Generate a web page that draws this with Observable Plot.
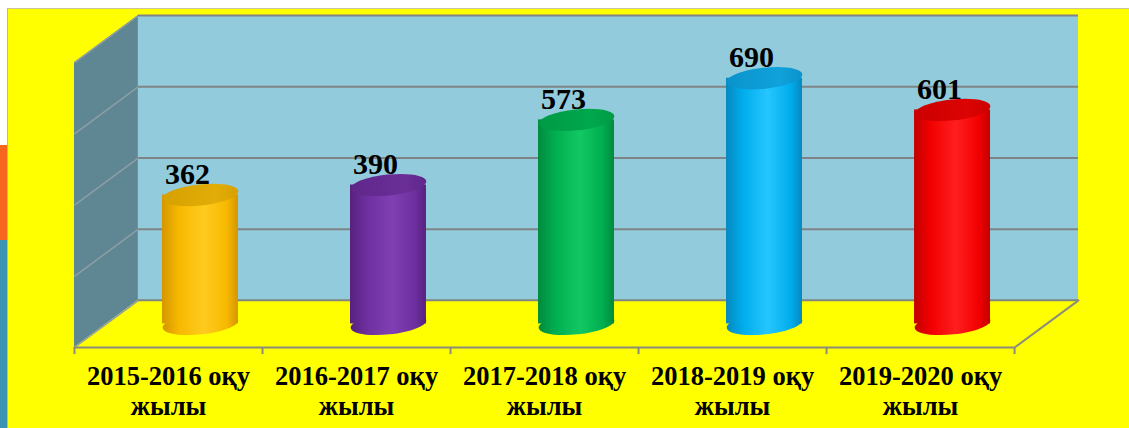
<!DOCTYPE html>
<html><head><meta charset="utf-8">
<script src="https://cdn.jsdelivr.net/npm/d3@7"></script>
<script src="https://cdn.jsdelivr.net/npm/@observablehq/plot@0.6"></script>
<style>
html,body{margin:0;padding:0;background:#fff;width:1129px;height:428px;overflow:hidden;position:relative;}
#panel{position:absolute;left:7px;top:8px;width:1122px;height:420px;background:#FFFF00;border-top:1px solid #c8c49a;border-left:1px solid #b9b9a0;box-sizing:border-box;}
#orange{position:absolute;left:0;top:145px;width:7px;height:96px;background:#F7661F;}
#teal{position:absolute;left:0;top:240px;width:7px;height:188px;background:#3A93B0;}
#chart{position:absolute;left:0;top:0;}
</style></head><body>
<div id="panel"></div><div id="orange"></div><div id="teal"></div><div id="chart"></div>
<script>
// ---- data ----
const categories = ["2015-2016 оқу\nжылы", "2016-2017 оқу\nжылы", "2017-2018 оқу\nжылы", "2018-2019 оқу\nжылы", "2019-2020 оқу\nжылы"];
const values = [362, 390, 573, 690, 601];
const yTicks = [0, 200, 400, 600, 800];
const barColors = [
  {dark: "#D49600", base: "#F7B900", light: "#FFCB1F", top: "#D6A000", topL: "#E3AD08"},
  {dark: "#57217F", base: "#6E2F9F", light: "#8040B3", top: "#5F278A", topL: "#6B2E98"},
  {dark: "#008A3E", base: "#00AE4F", light: "#12C863", top: "#009A45", topL: "#00A84C"},
  {dark: "#0688C0", base: "#00ADEC", light: "#26C6FF", top: "#0A93CC", topL: "#10A2DB"},
  {dark: "#C20000", base: "#F20000", light: "#FF1E1E", top: "#CC0000", topL: "#DC0303"}
];

// ---- geometry (depth offsets in scale units) ----
const n = categories.length;
const yMax = yTicks[yTicks.length - 1];
const d = 0.17;   // half depth, x units
const D = 66.2;   // half depth, y units
const halfW = 0.202;
const RX = 38, RY = 10.5, TILT = -6 * Math.PI / 180;
const rows = categories.map((c, i) => ({i, c, v: values[i]}));

const rot = (x, y) => [x * Math.cos(TILT) - y * Math.sin(TILT), x * Math.sin(TILT) + y * Math.cos(TILT)];
const ellipse = {draw(ctx) {
  const k = 0.5523;
  const P = [[RX, 0],
    [RX, k*RY], [k*RX, RY], [0, RY],
    [-k*RX, RY], [-RX, k*RY], [-RX, 0],
    [-RX, -k*RY], [-k*RX, -RY], [0, -RY],
    [k*RX, -RY], [RX, -k*RY], [RX, 0]].map(([x, y]) => rot(x, y));
  ctx.moveTo(...P[0]);
  for (let j = 1; j < P.length; j += 3) ctx.bezierCurveTo(...P[j], ...P[j + 1], ...P[j + 2]);
  ctx.closePath();
}};

const serif = "'Liberation Serif', 'Times New Roman', serif";
const marks = [
  Plot.areaY([{x: -0.5 - d, y1: -D, y2: yMax - D}, {x: -0.5 + d, y1: D, y2: yMax + D}],
    {x: "x", y1: "y1", y2: "y2", fill: "#5E8793"}),
  Plot.rect([0], {x1: -0.5 + d, x2: n - 0.5 + d, y1: D, y2: yMax + D, fill: "#92CBDB"}),
  Plot.link(yTicks, {x1: -0.5 - d, y1: v => v - D, x2: -0.5 + d, y2: v => v + D, stroke: "#8e9ea4", strokeWidth: 1.5}),
  Plot.ruleY(yTicks, {y: v => v + D, x1: -0.5 + d, x2: n - 0.5 + d, stroke: "#7f8486", strokeWidth: 2}),
  Plot.line([[-0.5 - d, -D], [n - 0.5 - d, -D], [n - 0.5 + d, D]], {stroke: "#8c8c7a", strokeWidth: 2}),
  Plot.ruleX(d3.range(n + 1), {x: i => i - 0.5 - d, y1: -D, y2: -D - 20, stroke: "#8c8c7a", strokeWidth: 2}),
  ...rows.map((r, i) => [
    Plot.dot([r], {x: "i", y: 0, symbol: ellipse, fill: `url(#body${i})`, stroke: "none"}),
    Plot.rectY([r], {x1: q => q.i - halfW, x2: q => q.i + halfW, y1: 0, y2: "v", fill: `url(#body${i})`}),
    Plot.dot([r], {x: "i", y: "v", symbol: ellipse, fill: `url(#top${i})`, stroke: "none"})
  ]).flat(),
  Plot.text(rows, {x: "i", y: "v", text: q => String(q.v), dx: -13, dy: -11, lineAnchor: "bottom",
    fontSize: 30, fontWeight: "bold", fontFamily: serif, fill: "#000"}),
  Plot.text(rows, {x: q => q.i - d, y: -D, text: "c", dy: 16, lineAnchor: "top", lineHeight: 1.14,
    fontSize: 26.5, fontWeight: "bold", fontFamily: serif, fill: "#000"})
];

const plot = Plot.plot({
  width: 1129, height: 428,
  marginLeft: 74, marginRight: 51, marginTop: 15, marginBottom: 81,
  x: {domain: [-0.5 - d, n - 0.5 + d], axis: null},
  y: {domain: [-D, yMax + D], axis: null},
  style: {background: "transparent", overflow: "visible"},
  marks
});

const svg = d3.select(plot);
const defs = svg.insert("defs", ":first-child");
barColors.forEach((p, i) => {
  const g = defs.append("linearGradient").attr("id", "body" + i).attr("x1", 0).attr("x2", 1).attr("y1", 0).attr("y2", 0);
  [[0, p.dark], [0.22, p.base], [0.55, p.light], [0.85, p.base], [1, p.dark]].forEach(([o, c]) =>
    g.append("stop").attr("offset", o).attr("stop-color", c));
  const t = defs.append("linearGradient").attr("id", "top" + i).attr("x1", 0).attr("x2", 1).attr("y1", 0).attr("y2", 0);
  [[0, p.top], [0.7, p.topL], [1, p.top]].forEach(([o, c]) =>
    t.append("stop").attr("offset", o).attr("stop-color", c));
});
document.getElementById("chart").appendChild(plot);
</script>
</body></html>
